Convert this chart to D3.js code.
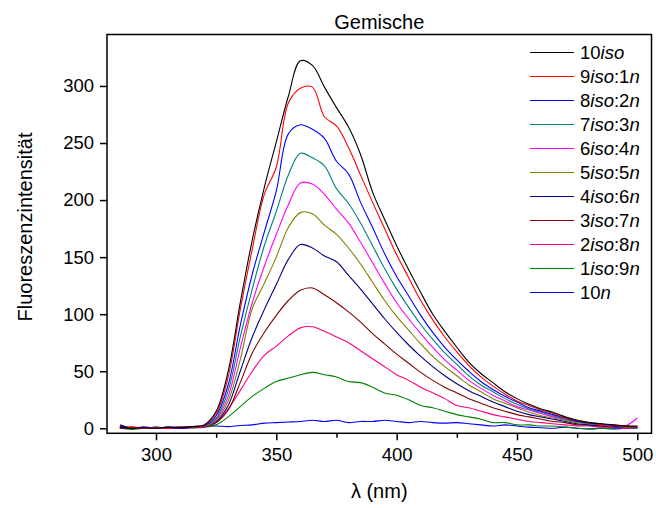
<!DOCTYPE html>
<html>
<head>
<meta charset="utf-8">
<script src="https://cdn.jsdelivr.net/npm/d3@7"></script>
<style>
  html, body { margin: 0; padding: 0; background: #fff; }
  svg { display: block; font-family: "Liberation Sans", Arial, Helvetica, sans-serif; }
</style>
</head>
<body>
<svg id="chart" width="656" height="508"></svg>
<script>
// Wavelengths (nm)
const wavelengths = [285,290,295,300,305,310,315,320,325,330,335,340,345,350,355,360,365,370,375,380,385,390,395,400,405,410,415,420,425,430,435,440,445,450,455,460,465,470,475,480,485,490,495,500];

// Series values (fluorescence intensity)
const s10iso   = [1,0,0.5,0,1,0.5,1.5,3,15,50,110,165,211,251,291,322,318,299,281,264,240,207,183,160,139,119,100,85,71,58,48,40,32,26,21,17,14,10,7,5,4,3,2,2];
const s9iso1n  = [0,1,0,0.5,0,1,1,2.5,13,45,104,157,205,229,285,298,299,273,265,246,222,198,175,152,132,112,95,80,67,55,45,37,30,24,20,16,13,9,7,5,3,3,2,1];
const s8iso2n  = [0.5,0,1,0,0.5,0,1,2,11,38,90,135,172,208,258,266,262,254,234,223,198,176,153,133,116,99,84,71,60,50,41,34,28,23,18,15,12,9,6,5,4,2,2,1];
const s7iso3n  = [0,0.5,0,1,0,1,0.5,2,9,33,80,122,160,190,222,241,237,230,210,197,180,160,140,122,106,91,78,66,56,46,38,32,26,21,17,14,11,8,6,4,3,2,2,1];
const s6iso4n  = [1,0,0.5,0,1,0,1,2,8,28,70,110,142,170,196,215,214,205,192,180,163,145,127,110,96,83,71,60,51,42,35,29,24,19,16,13,10,8,6,4,3,2,2,9];
const s5iso5n  = [0,1,0,0.5,0,1,0.5,1.5,7,24,60,105,127,150,176,189,188,178,170,158,144,128,112,98,86,74,63,54,46,38,32,26,22,18,14,11,9,7,5,4,3,2,1,1];
const s4iso6n  = [3,0,0.5,0,0.5,1,1,1.5,6,20,50,80,104,126,148,161,158,151,146,134,122,109,96,84,73,63,54,46,39,33,28,23,19,15,12,10,8,6,4,3,2,2,1,1];
const s3iso7n  = [1,0.5,0,1,0,0.5,1,1.5,5,16,40,66,84,99,112,121,123,117,110,102,93,83,74,65,57,49,42,36,31,26,22,18,15,12,10,8,6,5,3,3,2,1,1,1];
const s2iso8n  = [0,1,0.5,0,1,0,0.5,1,5,17,33,50,64,72,81,88,89,85,80,75,68,61,54,47,42,36,31,26,20,18,15,12,10,8,6,5,4,3,2,2,1,1,0,1];
const s1iso9n  = [0,-1,0,0.5,0,0.5,0.5,1,3,10,19,28,35,41,44,47,49,47,45,41,40,36,31,29,25,20,18,15,12,10,8,5,5,3,3,2,2,1,0,-0.5,0,0,1,0];
const s10n     = [2,0.5,1,0.5,1,1,1.5,2,2,1.5,2.5,3,4.5,5,5.5,6,7,6,7,5,6,6,7,6,5,6,5,4.5,5,4,3,2,3,2,1,0.5,0,1,0,-0.5,0,-0.5,0,0];

const seriesNames = ["10iso","9iso:1n","8iso:2n","7iso:3n","6iso:4n","5iso:5n","4iso:6n","3iso:7n","2iso:8n","1iso:9n","10n"];
const seriesColors = ["#000000","#ff0000","#0000ff","#008080","#ff00ff","#808000","#000080","#800000","#ff0080","#008000","#0000ff"];
const seriesValues = [s10iso,s9iso1n,s8iso2n,s7iso3n,s6iso4n,s5iso5n,s4iso6n,s3iso7n,s2iso8n,s1iso9n,s10n];

const xTicks = [300,350,400,450,500];
const xMinorTicks = [325,375,425,475];
const yTicks = [0,50,100,150,200,250,300];

const titleText = "Gemische";
const xLabel = "λ (nm)";
const yLabel = "Fluoreszenzintensität";

// Layout
const pLeft = 107, pRight = 651.5, pTop = 34.5, pBottom = 433.3;
const svg = d3.select("#chart");
const x = d3.scaleLinear().domain([279.64, 505.9]).range([pLeft, pRight]);
const y = d3.scaleLinear().domain([-4.38, 345.1]).range([pBottom, pTop]);

const fontSize = 18.5;

// Clip
svg.append("clipPath").attr("id","clip").append("rect")
  .attr("x", pLeft).attr("y", pTop).attr("width", pRight-pLeft).attr("height", pBottom-pTop);

// Lines (draw last series first so black ends on top)
const line = d3.line().x((d,i)=>x(wavelengths[i])).y(d=>y(d)).curve(d3.curveCatmullRom.alpha(0.5));
const g = svg.append("g").attr("clip-path","url(#clip)");
for (let k = seriesValues.length-1; k >= 0; k--) {
  g.append("path")
    .datum(seriesValues[k])
    .attr("d", line)
    .attr("fill","none")
    .attr("stroke", seriesColors[k])
    .attr("stroke-width", 1.1);
}

// Axes
const xAxis = svg.append("g").attr("transform", `translate(0,${pBottom})`)
  .call(d3.axisBottom(x).tickValues(xTicks).tickFormat(d3.format("d")).tickSize(7).tickPadding(8));
const xMinor = svg.append("g").attr("transform", `translate(0,${pBottom})`)
  .call(d3.axisBottom(x).tickValues(xMinorTicks).tickFormat("").tickSize(4.5));
const yAxis = svg.append("g").attr("transform", `translate(${pLeft},0)`)
  .call(d3.axisLeft(y).tickValues(yTicks).tickFormat(d3.format("d")).tickSize(7).tickPadding(6));

[xAxis, xMinor, yAxis].forEach(a => {
  a.select(".domain").remove();
  a.selectAll("line").attr("stroke","#000").attr("stroke-width",1.5);
  a.selectAll("text").attr("font-size", fontSize).attr("fill","#000")
    .attr("font-family", '"Liberation Sans", Arial, sans-serif');
});

// Frame
svg.append("rect").attr("x", pLeft).attr("y", pTop).attr("width", pRight-pLeft).attr("height", pBottom-pTop)
  .attr("fill","none").attr("stroke","#000").attr("stroke-width",1.5);

// Title
svg.append("text").attr("x", (pLeft+pRight)/2).attr("y", 29)
  .attr("text-anchor","middle").attr("font-size", 20).text(titleText);

// Axis labels
svg.append("text").attr("x", (pLeft+pRight)/2).attr("y", 498)
  .attr("text-anchor","middle").attr("font-size", 20).text(xLabel);
svg.append("text").attr("transform", `translate(32,227) rotate(-90)`)
  .attr("text-anchor","middle").attr("font-size", 20).text(yLabel);

// Legend
const legend = svg.append("g");
seriesNames.forEach((name, i) => {
  const ly = 52.5 + i*24;
  legend.append("line").attr("x1",530).attr("x2",574).attr("y1",ly).attr("y2",ly)
    .attr("stroke", seriesColors[i]).attr("stroke-width",1.1);
  const t = legend.append("text").attr("x",580).attr("y", ly+6.6).attr("font-size", fontSize);
  const parts = name.match(/(\d+|iso|n|:)/g);
  parts.forEach(p => {
    const ts = t.append("tspan").text(p);
    if (p === "iso" || p === "n") ts.attr("font-style","italic");
  });
});
</script>
</body>
</html>
